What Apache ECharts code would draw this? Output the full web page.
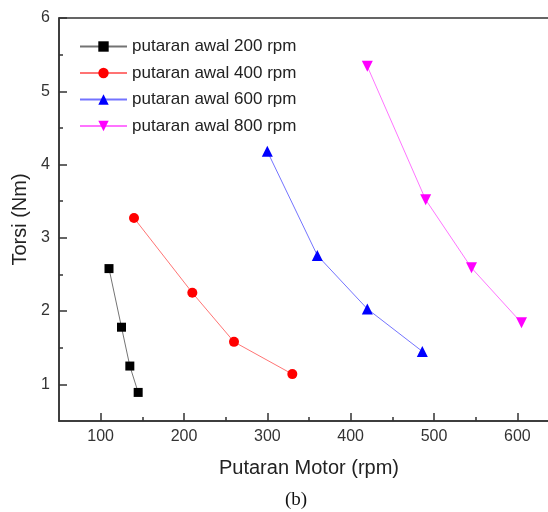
<!DOCTYPE html>
<html>
<head>
<meta charset="utf-8">
<script src="https://cdn.jsdelivr.net/npm/echarts@6/dist/echarts.min.js"></script>
<style>html,body{margin:0;padding:0;background:#fff;}#c{width:548px;height:512px;}</style>
</head>
<body>
<div id="c"></div>
<script>
const seriesNames = ['putaran awal 200 rpm', 'putaran awal 400 rpm', 'putaran awal 600 rpm', 'putaran awal 800 rpm'];
const x200 = [110, 125, 135, 145];
const y200 = [2.58, 1.78, 1.25, 0.89];
const x400 = [140, 210, 260, 330];
const y400 = [3.27, 2.25, 1.58, 1.14];
const x600 = [300, 360, 420, 486];
const y600 = [4.18, 2.76, 2.03, 1.45];
const x800 = [420, 490, 545, 605];
const y800 = [5.34, 3.52, 2.59, 1.84];
const xMajorTicks = [100, 200, 300, 400, 500, 600];
const xMinorTicks = [150, 250, 350, 450, 550, 650];
const yMajorTicks = [1, 2, 3, 4, 5, 6];
const yMinorTicks = [1.5, 2.5, 3.5, 4.5, 5.5];

const colors = ['#000000', '#ff0000', '#0000ff', '#ff00ff'];
const symbols = ['rect', 'circle', 'triangle', 'path://M0,0 L10,0 L5,9 Z'];
const symbolSizes = [9, 10, 11, 11];
const xs = [x200, x400, x600, x800];
const ys = [y200, y400, y600, y800];
const font = 'Liberation Sans, Arial, sans-serif';
const axisColor = '#333';

const chart = echarts.init(document.getElementById('c'));
const series = seriesNames.map((name, i) => ({
  name: name,
  type: 'line',
  xAxisIndex: 0,
  yAxisIndex: 0,
  data: xs[i].map((x, j) => [x, ys[i][j]]),
  symbol: symbols[i],
  symbolSize: symbolSizes[i],
  itemStyle: { color: colors[i] },
  lineStyle: { color: colors[i], width: 1, opacity: 0.55 },
  animation: false
}));

chart.setOption({
  animation: false,
  grid: { left: 59, top: 18, width: 500, height: 403, outerBoundsMode: 'none', containLabel: false, show: true, borderColor: axisColor, borderWidth: 1.5, backgroundColor: 'transparent' },
  legend: {
    orient: 'vertical', left: 79, top: 38, padding: 0,
    itemWidth: 47, itemHeight: 13, itemGap: 9.5,
    textStyle: { fontFamily: font, fontSize: 17, color: '#222' },
    data: seriesNames
  },
  xAxis: [{
    type: 'value', min: 50, max: 650, interval: 50,
    name: 'Putaran Motor (rpm)', nameLocation: 'middle', nameGap: 37,
    nameTextStyle: { fontFamily: font, fontSize: 20, color: '#222' },
    axisLine: { show: true, lineStyle: { color: axisColor, width: 1.5 } },
    axisTick: { show: true, inside: true, length: 8, customValues: xMajorTicks, lineStyle: { color: axisColor, width: 1.5 } },
    axisLabel: { fontFamily: font, fontSize: 16, color: '#333', margin: 8, customValues: xMajorTicks },
    splitLine: { show: false }
  }, {
    type: 'value', min: 50, max: 650, interval: 50, gridIndex: 0, position: 'bottom',
    axisLine: { show: false },
    axisTick: { show: true, inside: true, length: 4, customValues: xMinorTicks, lineStyle: { color: axisColor, width: 1.5 } },
    axisLabel: { show: false },
    splitLine: { show: false }
  }],
  yAxis: [{
    type: 'value', min: 0.5, max: 6, interval: 0.5,
    name: 'Torsi (Nm)', nameLocation: 'middle', nameGap: 26,
    nameTextStyle: { fontFamily: font, fontSize: 20, color: '#222' },
    axisLine: { show: true, lineStyle: { color: axisColor, width: 1.5 } },
    axisTick: { show: true, inside: true, length: 8, customValues: yMajorTicks, lineStyle: { color: axisColor, width: 1.5 } },
    axisLabel: { fontFamily: font, fontSize: 16, color: '#333', margin: 9, customValues: yMajorTicks },
    splitLine: { show: false }
  }, {
    type: 'value', min: 0.5, max: 6, interval: 0.5, gridIndex: 0, position: 'left',
    axisLine: { show: false },
    axisTick: { show: true, inside: true, length: 4, customValues: yMinorTicks, lineStyle: { color: axisColor, width: 1.5 } },
    axisLabel: { show: false },
    splitLine: { show: false }
  }],
  graphic: [{
    type: 'text', left: 285, top: 491,
    style: { text: '(b)', fontFamily: 'Liberation Serif, Times New Roman, serif', fontSize: 19, fill: '#111' }
  }],
  series: series
});
</script>
</body>
</html>
